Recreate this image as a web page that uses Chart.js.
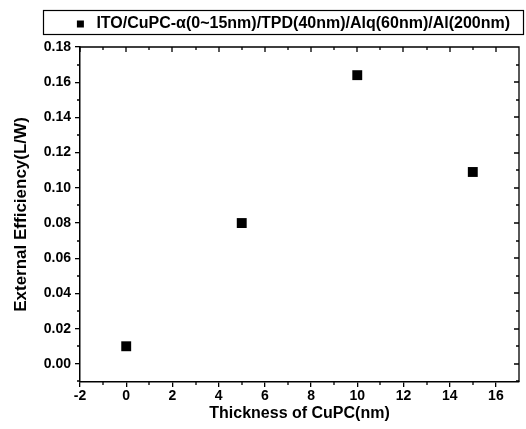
<!DOCTYPE html>
<html>
<head>
<meta charset="utf-8">
<script src="https://cdn.jsdelivr.net/npm/chart.js@4/dist/chart.umd.min.js"></script>
<style>
  html, body { margin: 0; padding: 0; background: #fff; }
  #wrap { width: 526px; height: 429px; }
</style>
</head>
<body>
<div id="wrap"><canvas id="graph"></canvas></div>
<script>
// data
const seriesName = 'ITO/CuPC-\u03b1(0~15nm)/TPD(40nm)/Alq(60nm)/Al(200nm)';
const thickness = [0, 5, 10, 15];
const efficiency = [0.010, 0.080, 0.164, 0.109];
const xTicks = [-2, 0, 2, 4, 6, 8, 10, 12, 14, 16];
const xMinor = [-1, 1, 3, 5, 7, 9, 11, 13, 15];
const yTicks = [0.00, 0.02, 0.04, 0.06, 0.08, 0.10, 0.12, 0.14, 0.16, 0.18];
const yMinor = [-0.01, 0.01, 0.03, 0.05, 0.07, 0.09, 0.11, 0.13, 0.15, 0.17];

const points = thickness.map((t, i) => ({x: t, y: efficiency[i]}));

const fontFam = '"Liberation Sans", Arial, sans-serif';

// a bit more room under the legend
const legendGap = {
    id: 'legendGap',
    beforeInit(chart) {
        const origFit = chart.legend.fit;
        chart.legend.fit = function fit() {
            origFit.bind(chart.legend)();
            this.height += 5;
        };
    }
};

// minor ticks + mirrored ticks on top/right, and a frame round the legend
const frameTicks = {
    id: 'frameTicks',
    afterDraw(chart) {
        const ctx = chart.ctx;
        const a = chart.chartArea;
        const xs = chart.scales.x, ys = chart.scales.y;
        ctx.save();
        ctx.strokeStyle = '#000';
        ctx.lineWidth = 1.3;
        ctx.beginPath();
        // top and right border
        ctx.moveTo(a.left, a.top); ctx.lineTo(a.right, a.top); ctx.lineTo(a.right, a.bottom);
        // bottom minor outward, top ticks inward
        xMinor.forEach(v => {
            const px = Math.round(xs.getPixelForValue(v));
            ctx.moveTo(px, a.bottom); ctx.lineTo(px, a.bottom + 3);
            ctx.moveTo(px, a.top); ctx.lineTo(px, a.top + 3);
        });
        xTicks.forEach(v => {
            const px = Math.round(xs.getPixelForValue(v));
            ctx.moveTo(px, a.top); ctx.lineTo(px, a.top + 5);
        });
        // left minor outward, right ticks inward
        yMinor.forEach(v => {
            const py = Math.round(ys.getPixelForValue(v));
            ctx.moveTo(a.left, py); ctx.lineTo(a.left - 3, py);
            ctx.moveTo(a.right, py); ctx.lineTo(a.right - 3, py);
        });
        yTicks.forEach(v => {
            const py = Math.round(ys.getPixelForValue(v));
            ctx.moveTo(a.right, py); ctx.lineTo(a.right - 5, py);
        });
        ctx.stroke();
        // legend frame
        ctx.lineWidth = 1.2;
        ctx.strokeRect(43.5, 10.5, 480, 24);
        ctx.restore();
    }
};

const config = {
    type: 'scatter',
    data: {
        datasets: [{
            label: seriesName,
            data: points,
            pointStyle: 'rect',
            pointRadius: 7,
            pointHoverRadius: 7,
            backgroundColor: '#000',
            borderColor: '#000',
            borderWidth: 0
        }]
    },
    options: {
        responsive: true,
        maintainAspectRatio: false,
        animation: false,
        layout: { padding: { top: 4, right: 4, left: 0, bottom: 0 } },
        plugins: {
            tooltip: { enabled: false },
            legend: {
                display: true,
                position: 'top',
                align: 'end',
                labels: {
                    usePointStyle: true,
                    pointStyle: 'rect',
                    boxWidth: 16,
                    boxHeight: 7,
                    padding: 12,
                    color: '#000',
                    font: { family: fontFam, size: 16, weight: 'bold' }
                }
            }
        },
        scales: {
            x: {
                type: 'linear',
                min: -2,
                max: 17,
                afterBuildTicks: (s) => { s.ticks = xTicks.map(v => ({value: v})); },
                afterFit: (s) => { s.height = 47; },
                grid: { display: true, drawOnChartArea: false, tickLength: 5, color: '#000', lineWidth: 1.3 },
                border: { display: true, color: '#000', width: 1.5 },
                ticks: { color: '#000', padding: 1, maxRotation: 0, font: { family: fontFam, size: 14, weight: 'bold' } },
                title: { display: true, text: 'Thickness of CuPC(nm)', color: '#000', padding: { top: 0, bottom: 6 }, font: { family: fontFam, size: 16, weight: 'bold' } }
            },
            y: {
                type: 'linear',
                min: -0.0103,
                max: 0.18,
                afterBuildTicks: (s) => { s.ticks = yTicks.map(v => ({value: v})); },
                afterFit: (s) => { s.width = 80; },
                grid: { display: true, drawOnChartArea: false, tickLength: 5, color: '#000', lineWidth: 1.3 },
                border: { display: true, color: '#000', width: 1.5 },
                ticks: { color: '#000', padding: 4, callback: v => v.toFixed(2), font: { family: fontFam, size: 14, weight: 'bold' } },
                title: { display: true, text: 'External Efficiency(L/W)', color: '#000', padding: { top: 11, bottom: 0 }, font: { family: fontFam, size: 17, weight: 'bold' } }
            }
        }
    },
    plugins: [legendGap, frameTicks]
};

const graph = document.getElementById('graph');
new Chart(graph, config);
</script>
</body>
</html>
